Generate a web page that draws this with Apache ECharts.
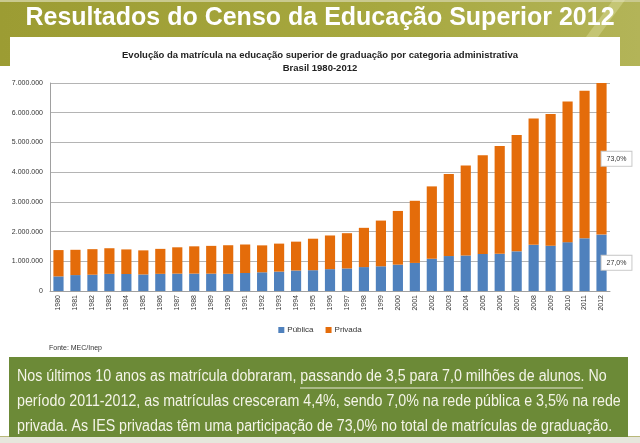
<!DOCTYPE html>
<html><head><meta charset="utf-8">
<script src="https://cdn.jsdelivr.net/npm/echarts@6/dist/echarts.min.js"></script>
<style>html,body{margin:0;padding:0;background:#fff}#c{width:640px;height:443px}</style>
</head><body><div id="c"></div>
<script>
const years = ['1980','1981','1982','1983','1984','1985','1986','1987','1988','1989','1990','1991','1992','1993','1994','1995','1996','1997','1998','1999','2000','2001','2002','2003','2004','2005','2006','2007','2008','2009','2010','2011','2012'];
const publica = [492232,535810,548388,576689,571879,556680,577632,584965,585351,584414,578625,605736,629662,653516,690450,700540,735427,759182,804729,832022,887026,944584,1085977,1176174,1195000,1246704,1251365,1335177,1552953,1523864,1643298,1773315,1897376];
const privada = [885054,850982,859599,862303,827660,810929,840564,885590,918204,934490,961455,959320,906126,941152,970584,1059163,1133102,1186433,1321229,1537923,1807219,2091529,2434650,2760759,3025000,3321094,3632487,3914970,4255064,4430157,4736001,4966374,5140312];
const yTicks = ['0','1.000.000','2.000.000','3.000.000','4.000.000','5.000.000','6.000.000','7.000.000'];
const shareLabels = ['27,0%','73,0%'];

const chart = echarts.init(document.getElementById('c'), null, {renderer:'canvas'});
const lastIdx = years.length - 1;
const labelStyle = {show:true, position:'inside', offset:[15,0], color:'#333', fontSize:7, fontFamily:'Liberation Sans, Arial, sans-serif', backgroundColor:'#fff', borderColor:'#c8c8c8', borderWidth:1, padding:[4,5,3,5]};
function mkData(arr, lab){
  return arr.map((v,i)=> i===lastIdx ? {value:v, label:Object.assign({}, labelStyle, {formatter:lab})} : v);
}
const bodyFont = '16px "Liberation Sans", Arial, sans-serif';
const sx = 0.89;
function bodyLine(txt, y){
  return {type:'text', x:17, y:y, scaleX:sx, originX:0, z:6, silent:true,
    style:{text:txt, fill:'#f4f4e8', font:bodyFont, textVerticalAlign:'middle'}};
}
chart.setOption({
  animation:false,
  textStyle:{fontFamily:'Liberation Sans, Arial, sans-serif'},
  graphic:[
    {type:'rect', shape:{x:0,y:0,width:640,height:66}, z:0, silent:true,
     style:{fill:new echarts.graphic.LinearGradient(0,0,1,0,[{offset:0,color:'#9c9c33'},{offset:0.6,color:'#a7a83f'},{offset:1,color:'#b3b458'}])}},
    {type:'rect', shape:{x:0,y:0,width:640,height:2}, z:0, silent:true, style:{fill:'#c9c98e'}},
    {type:'polygon', shape:{points:[[586,37],[598,37],[625,0],[613,0]]}, z:0, silent:true, style:{fill:'rgba(255,255,210,0.25)'}},
    {type:'rect', shape:{x:10,y:37,width:610,height:400}, z:1, silent:true, style:{fill:'#ffffff'}},
    {type:'text', x:320, y:18, z:3, silent:true,
     style:{text:'Resultados do Censo da Educação Superior 2012', fill:'#ffffff', font:'bold 25px "Liberation Sans", Arial, sans-serif', textAlign:'center', textVerticalAlign:'middle'}},
    {type:'text', x:320, y:55, z:3, silent:true,
     style:{text:'Evolução da matrícula na educação superior de graduação por categoria administrativa', fill:'#222', font:'bold 9.5px "Liberation Sans", Arial, sans-serif', textAlign:'center', textVerticalAlign:'middle'}},
    {type:'text', x:320, y:68, z:3, silent:true,
     style:{text:'Brasil 1980-2012', fill:'#222', font:'bold 9.5px "Liberation Sans", Arial, sans-serif', textAlign:'center', textVerticalAlign:'middle'}},
    {type:'text', x:49, y:348, z:3, silent:true,
     style:{text:'Fonte: MEC/Inep', fill:'#333', font:'7px "Liberation Sans", Arial, sans-serif', textVerticalAlign:'middle'}},
    {type:'rect', shape:{x:9,y:357,width:619,height:80}, z:5, silent:true, style:{fill:'#6c8a37'}},
    bodyLine('Nos últimos 10 anos as matrícula dobraram, passando de 3,5 para 7,0 milhões de alunos. No', 377),
    bodyLine('período 2011-2012, as matrículas cresceram 4,4%, sendo 7,0% na rede pública e 3,5% na rede', 402),
    bodyLine('privada. As IES privadas têm uma participação de 73,0% no total de matrículas de graduação.', 427),
    {type:'line', shape:{x1:300,y1:388,x2:583,y2:388}, z:6, silent:true, style:{stroke:'#e8e8d8', lineWidth:1}},
    {type:'rect', shape:{x:0,y:437,width:640,height:6}, z:4, silent:true, style:{fill:'#e6e6dc'}},
    {type:'rect', shape:{x:0,y:436,width:640,height:1}, z:4, silent:true, style:{fill:'#b8b87a'}}
  ],
  grid:{left:50, right:30, top:83, bottom:152, containLabel:false, z:2},
  legend:{data:['Pública','Privada'], top:321, left:'center', itemWidth:6, itemHeight:6, itemGap:12, icon:'rect',
    textStyle:{fontSize:8, color:'#333', padding:[0,0,0,-2]}, z:3},
  xAxis:{type:'category', data:years, z:3,
    axisLine:{lineStyle:{color:'#a0a0a0'}}, axisTick:{show:false},
    axisLabel:{rotate:90, fontSize:7, color:'#333', margin:4, interval:0}},
  yAxis:{type:'value', min:0, max:7000000, interval:1000000, z:3,
    axisLine:{show:true, lineStyle:{color:'#a0a0a0'}}, axisTick:{show:false},
    splitLine:{lineStyle:{color:'#b4b4b4'}},
    axisLabel:{fontSize:7, color:'#333', margin:7, formatter:(v)=>yTicks[Math.round(v/1000000)]}},
  series:[
    {name:'Pública', type:'bar', stack:'t', barWidth:'60%', itemStyle:{color:'#4f81bd'}, z:3, data:mkData(publica, shareLabels[0])},
    {name:'Privada', type:'bar', stack:'t', barWidth:'60%', itemStyle:{color:'#e46c0a'}, z:3, data:mkData(privada, shareLabels[1])}
  ]
});
</script></body></html>
